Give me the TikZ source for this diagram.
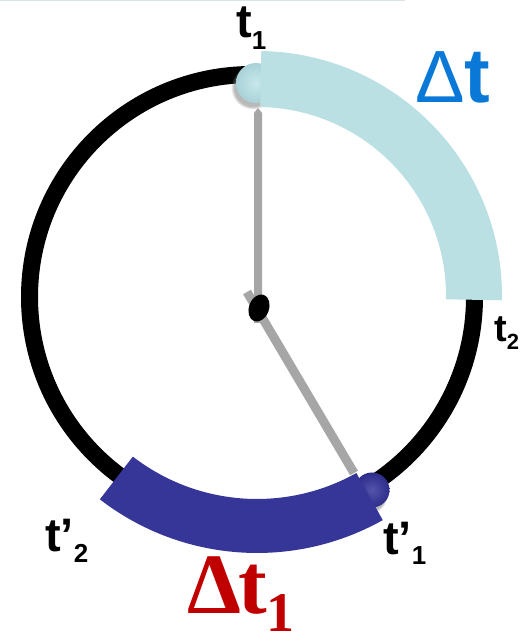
\documentclass[tikz,border=0pt]{standalone}
\usepackage{fontspec}
\setmainfont{Liberation Sans}
\newfontfamily\serifbf{Liberation Serif}
\usetikzlibrary{calc,shadows}
\definecolor{lband}{RGB}{186,224,228}
\definecolor{dband}{RGB}{54,54,152}
\definecolor{handgray}{RGB}{166,166,166}
\definecolor{dtblue}{RGB}{10,120,215}
\definecolor{dtred}{RGB}{192,0,0}
\definecolor{topline}{RGB}{217,226,230}
\tikzset{
  lbl/.style={anchor=base west, inner sep=0pt, font=\bfseries\fontsize{47}{47}\selectfont},
  ball/.style={circle, inner sep=0pt, draw=none,
     circular drop shadow={shadow xshift=-3pt, shadow yshift=-4pt, opacity=0.55}},
  hand/.style={fill=handgray, draw=none},
}
\newcommand{\sublow}[2]{\raisebox{-#1}{\fontsize{26}{26}\selectfont #2}}
\begin{document}
\begin{tikzpicture}[x=1pt,y=1pt]
\useasboundingbox (0,0) rectangle (527,644);
\draw[topline, line width=1.5pt] (0,643.3) -- (405,643.3);
\coordinate (c) at (257,348);
\coordinate (rc) at (252,347);
% ring
\draw[line width=17pt] (rc) circle[radius=222.5];
% spheres
\node[ball, minimum size=40pt, inner color={rgb,255:red,200;green,232;blue,235}, outer color={rgb,255:red,168;green,210;blue,216}] (s1) at (256,561) {};
\node[ball, minimum size=35pt, inner color={rgb,255:red,84;green,84;blue,172}, outer color={rgb,255:red,44;green,44;blue,138}] (s2) at (372,154) {};
% hands
\fill[hand] (254,321) -- (262,321) -- (262,531) -- (258,536) -- (254,531) -- cycle;
\coordinate (h2a) at (247,352);
\coordinate (h2b) at (354,171);
\draw[handgray, line width=9pt] (h2a) -- (h2b);
% bands
\fill[lband] ($(c)+(89:245)$) arc[start angle=89, end angle=-1, radius=245]
   -- ($(c)+(-1:189)$) arc[start angle=-1, end angle=89, radius=189] -- cycle;
\fill[dband] ($(c)+(-127.7:257)$) arc[start angle=-127.7, end angle=-60.7, radius=257]
   -- ($(c)+(-60.7:203)$) arc[start angle=-60.7, end angle=-127.7, radius=203] -- cycle;
% pivot
\fill[black, rotate around={-20:(259,336)}] (259,336) ellipse[x radius=10, y radius=14];
% labels
\node[lbl] (t1) at (236,606) {t\sublow{12pt}{1}};
\node[lbl, font=\bfseries\fontsize{38}{38}\selectfont] (t2) at (494,302) {t\raisebox{-8pt}{\fontsize{22}{22}\selectfont 2}};
\node[lbl] (tp1) at (383,89) {t’\sublow{10pt}{1}};
\node[lbl] (tp2) at (45,92) {t’\sublow{11pt}{2}};
\node[anchor=base west, inner sep=0pt, text=dtblue] (dt) at (415,541)
   {\fontsize{74}{74}\selectfont Δ\bfseries\fontsize{77}{77}\selectfont t};
\node[anchor=base west, inner sep=0pt, text=dtred] (dt1) at (187,30)
   {\serifbf\bfseries\fontsize{86}{86}\selectfont Δ\kern-3pt t\raisebox{-17pt}{\fontsize{56}{56}\selectfont 1}};
\end{tikzpicture}
\end{document}
